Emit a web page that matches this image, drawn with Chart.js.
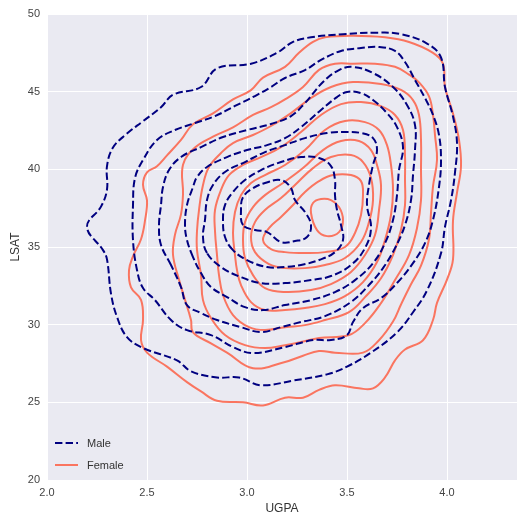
<!DOCTYPE html>
<html>
<head>
<meta charset="utf-8">
<script src="https://cdn.jsdelivr.net/npm/chart.js@4.4.1/dist/chart.umd.min.js"></script>
<style>
  html, body { margin: 0; padding: 0; background: #fff; }
  #wrap { width: 520px; height: 518px; }
</style>
</head>
<body>
<div id="wrap"><canvas id="kde" width="520" height="518"></canvas></div>
<script>
// axis ticks and series names
const xTicks = [2.0, 2.5, 3.0, 3.5, 4.0];
const yTicks = [20, 25, 30, 35, 40, 45, 50];
const seriesNames = ["Male", "Female"];

// male density contours (UGPA, LSAT), outermost first
const male1 = [[2.20,36.3],[2.27,37.6],[2.30,38.7],[2.30,40.2],[2.33,41.4],[2.40,42.3],[2.48,43.1],[2.57,44.0],[2.63,44.8],[2.77,45.3],[2.85,46.5],[3.02,46.8],[3.15,47.5],[3.23,48.2],[3.32,48.5],[3.48,48.7],[3.65,48.8],[3.77,48.7],[3.90,48.1],[3.97,47.2],[3.99,45.3],[4.03,43.4],[4.05,41.7],[4.04,39.8],[4.02,38.0],[3.99,36.3],[3.97,34.6],[3.90,32.2],[3.83,30.8],[3.75,29.5],[3.62,28.2],[3.50,27.3],[3.40,26.8],[3.23,26.4],[3.07,26.1],[2.96,26.6],[2.85,26.6],[2.72,27.0],[2.65,27.7],[2.48,28.5],[2.40,29.2],[2.35,30.5],[2.32,32.0],[2.30,34.2],[2.28,34.8]];
const male2 = [[2.43,35.44],[2.43,37.70],[2.44,39.44],[2.48,40.60],[2.55,41.89],[2.64,42.53],[2.74,42.98],[2.84,43.43],[2.94,44.08],[3.04,44.72],[3.12,45.30],[3.19,45.88],[3.29,46.39],[3.37,47.04],[3.47,47.62],[3.57,47.81],[3.66,47.88],[3.74,47.62],[3.79,46.91],[3.84,45.75],[3.89,44.59],[3.93,43.50],[3.96,42.21],[3.97,40.60],[3.96,38.86],[3.93,36.74],[3.89,35.25],[3.83,33.96],[3.75,32.68],[3.67,31.71],[3.58,31.07],[3.53,30.17],[3.50,29.33],[3.42,29.01],[3.33,29.01],[3.19,28.56],[3.03,28.17],[2.93,28.56],[2.82,29.33],[2.70,29.65],[2.62,30.30],[2.54,31.58],[2.48,32.36],[2.45,33.52]];
const male3 = [[2.62,33.84],[2.57,35.13],[2.56,36.41],[2.57,37.70],[2.58,38.86],[2.61,39.95],[2.67,40.79],[2.77,41.43],[2.88,42.08],[3.00,42.53],[3.12,42.92],[3.22,43.43],[3.29,44.27],[3.38,45.62],[3.46,46.39],[3.53,46.59],[3.63,46.20],[3.73,45.30],[3.80,44.14],[3.84,42.85],[3.84,41.24],[3.83,39.63],[3.82,38.02],[3.79,36.41],[3.74,34.93],[3.68,33.64],[3.61,32.55],[3.52,31.46],[3.39,30.55],[3.27,30.17],[3.17,29.84],[3.07,29.52],[2.97,29.84],[2.85,30.30],[2.77,30.75],[2.70,31.26],[2.67,32.42]];
const male4 = [[2.73,34.35],[2.70,35.45],[2.69,36.41],[2.70,37.70],[2.73,38.86],[2.75,39.50],[2.80,40.15],[2.90,40.79],[3.00,41.24],[3.10,41.56],[3.19,42.01],[3.27,42.72],[3.37,43.82],[3.45,44.65],[3.50,44.98],[3.57,44.91],[3.63,44.46],[3.70,43.62],[3.75,42.72],[3.78,41.43],[3.76,39.95],[3.75,38.34],[3.73,36.74],[3.69,35.25],[3.63,33.96],[3.54,32.87],[3.44,32.10],[3.32,31.58],[3.19,31.26],[3.08,30.94],[2.99,31.13],[2.90,31.78],[2.82,32.42],[2.77,33.32]];
const male5 = [[2.80,34.61],[2.78,35.64],[2.79,36.74],[2.80,38.02],[2.83,38.99],[2.89,39.83],[2.99,40.47],[3.09,41.11],[3.19,41.56],[3.29,42.01],[3.40,42.34],[3.48,42.40],[3.57,42.34],[3.63,42.01],[3.65,41.24],[3.63,40.28],[3.61,38.99],[3.60,37.70],[3.62,36.22],[3.59,34.93],[3.52,33.84],[3.42,33.13],[3.32,32.87],[3.19,32.68],[3.07,32.68],[2.97,33.06],[2.87,33.71]];
const male6 = [[2.93,34.80],[2.89,35.64],[2.88,36.74],[2.89,37.70],[2.93,38.54],[2.99,39.31],[3.07,39.95],[3.17,40.47],[3.27,40.79],[3.36,40.73],[3.42,40.21],[3.44,39.31],[3.44,38.34],[3.45,37.38],[3.47,36.41],[3.48,35.45],[3.44,34.67],[3.36,34.16],[3.27,33.84],[3.19,33.71],[3.10,33.71],[3.00,34.16]];
const male7 = [[2.98,36.41],[2.97,37.38],[2.98,38.21],[3.03,38.79],[3.09,39.12],[3.17,39.31],[3.22,38.79],[3.24,38.02],[3.29,37.25],[3.32,36.41],[3.30,35.64],[3.24,35.38],[3.17,35.32],[3.10,35.96],[3.04,36.09]];

// female density contours (UGPA, LSAT), outermost first
const female1 = [[2.41,33.5],[2.43,34.4],[2.47,35.5],[2.49,36.7],[2.50,38.0],[2.48,39.0],[2.50,39.8],[2.55,40.2],[2.60,40.9],[2.67,41.9],[2.73,42.9],[2.83,43.6],[2.93,44.5],[3.02,45.1],[3.08,45.9],[3.19,46.6],[3.26,47.5],[3.33,48.2],[3.39,48.5],[3.53,48.6],[3.69,48.5],[3.81,48.2],[3.93,47.5],[3.98,46.8],[3.99,45.3],[4.03,43.6],[4.06,41.9],[4.07,40.2],[4.05,38.5],[4.03,36.7],[4.03,34.2],[4.00,32.9],[3.95,31.4],[3.93,30.3],[3.88,29.0],[3.79,28.4],[3.74,27.7],[3.69,26.6],[3.63,25.9],[3.56,25.9],[3.44,26.1],[3.36,25.8],[3.28,25.3],[3.19,25.3],[3.08,24.8],[2.98,25.0],[2.85,25.1],[2.77,25.7],[2.70,26.3],[2.60,27.3],[2.50,28.2],[2.47,29.0],[2.48,30.3],[2.47,31.6],[2.42,32.4]];
const female2 = [[2.72,30.3],[2.69,31.6],[2.66,32.9],[2.63,34.5],[2.64,35.8],[2.67,37.1],[2.68,38.4],[2.68,40.3],[2.74,41.4],[2.83,42.1],[2.93,42.7],[3.03,43.5],[3.12,44.0],[3.19,44.5],[3.28,45.3],[3.36,46.4],[3.44,46.8],[3.53,46.8],[3.64,46.8],[3.74,46.6],[3.81,46.1],[3.86,45.6],[3.91,44.7],[3.93,43.5],[3.94,42.2],[3.95,40.6],[3.93,38.9],[3.92,37.2],[3.91,35.5],[3.87,33.8],[3.82,32.6],[3.77,31.3],[3.73,30.2],[3.66,29.0],[3.58,28.2],[3.44,28.2],[3.36,28.3],[3.28,28.0],[3.19,27.6],[3.03,27.2],[2.90,28.2],[2.82,28.8],[2.73,29.5]];
const female3 = [[2.75,34.80],[2.75,36.03],[2.76,37.38],[2.78,38.99],[2.81,40.15],[2.87,41.05],[2.93,41.69],[3.03,42.21],[3.12,42.79],[3.22,43.62],[3.32,44.59],[3.42,45.30],[3.53,45.62],[3.67,45.49],[3.77,45.11],[3.83,44.46],[3.86,43.50],[3.87,41.89],[3.87,39.95],[3.87,38.02],[3.85,36.22],[3.81,34.48],[3.74,32.87],[3.67,31.39],[3.59,30.10],[3.51,29.33],[3.36,29.14],[3.27,28.88],[3.19,28.68],[3.09,28.49],[2.99,28.68],[2.89,29.33],[2.82,30.42],[2.78,31.58],[2.77,33.19]];
const female4 = [[2.85,34.48],[2.84,36.03],[2.84,37.38],[2.87,38.67],[2.91,39.63],[2.98,40.28],[3.07,40.79],[3.17,41.43],[3.27,42.40],[3.37,43.50],[3.47,44.20],[3.57,44.33],[3.67,44.07],[3.74,43.50],[3.78,42.53],[3.79,40.92],[3.79,39.31],[3.79,37.70],[3.77,36.09],[3.73,34.48],[3.67,32.99],[3.59,31.77],[3.51,30.81],[3.39,30.30],[3.29,29.97],[3.19,29.84],[3.09,29.65],[3.01,29.84],[2.93,30.62],[2.88,31.90],[2.86,33.19]];
const female5 = [[2.94,34.48],[2.93,35.90],[2.94,37.25],[2.97,38.34],[3.02,39.12],[3.09,39.63],[3.19,40.28],[3.29,41.24],[3.39,42.53],[3.49,43.11],[3.59,43.04],[3.66,42.53],[3.70,41.56],[3.72,40.28],[3.73,38.67],[3.72,37.06],[3.69,35.45],[3.65,34.03],[3.58,32.74],[3.49,31.84],[3.39,31.32],[3.29,31.07],[3.19,30.94],[3.09,30.94],[3.02,31.45],[2.97,32.55],[2.95,33.51]];
const female6 = [[2.99,34.29],[2.98,35.45],[2.99,36.60],[3.03,37.57],[3.09,38.34],[3.18,39.12],[3.28,40.08],[3.38,41.24],[3.47,41.82],[3.56,41.82],[3.62,41.24],[3.65,40.28],[3.67,38.99],[3.66,37.38],[3.64,35.77],[3.59,34.48],[3.52,33.39],[3.42,32.61],[3.32,32.23],[3.19,32.10],[3.09,32.35],[3.03,33.19]];
const female7 = [[3.04,34.67],[3.02,35.64],[3.04,36.60],[3.09,37.38],[3.17,38.15],[3.24,38.99],[3.33,40.08],[3.42,40.79],[3.52,40.92],[3.58,40.47],[3.62,39.44],[3.63,38.02],[3.61,36.60],[3.57,35.32],[3.49,34.29],[3.39,33.84],[3.29,33.64],[3.19,33.64],[3.11,33.90]];
const female8 = [[3.08,35.45],[3.11,36.22],[3.17,36.93],[3.23,37.70],[3.29,38.54],[3.36,39.24],[3.43,39.63],[3.52,39.63],[3.57,39.24],[3.58,38.34],[3.57,37.06],[3.54,35.90],[3.49,35.00],[3.39,34.67],[3.29,34.61],[3.19,34.67],[3.12,34.87]];
const female9 = [[3.32,37.19],[3.33,37.83],[3.37,38.09],[3.42,38.02],[3.46,37.57],[3.48,36.74],[3.46,35.96],[3.40,35.70],[3.35,36.09]];

const maleLevels = [male1, male2, male3, male4, male5, male6, male7];
const femaleLevels = [female1, female2, female3, female4, female5, female6, female7, female8, female9];

const maleColor = "#000080";
const femaleColor = "#FA7560";
const maleDash = [7.4, 3.2];

Chart.defaults.font.family = '"Liberation Sans", Arial, sans-serif';

const datasets = [];
maleLevels.forEach((pts, i) => {
  datasets.push({
    label: i === 0 ? seriesNames[0] : "",
    data: pts,
    showLine: true,
    borderColor: maleColor,
    borderWidth: 2,
    borderDash: maleDash,
    pointRadius: 0,
    tension: 0.4
  });
});
femaleLevels.forEach((pts, i) => {
  datasets.push({
    label: i === 0 ? seriesNames[1] : "",
    data: pts,
    showLine: true,
    borderColor: femaleColor,
    borderWidth: 2,
    pointRadius: 0,
    tension: 0.4
  });
});

// contours are closed curves: make the line element wrap round like a radar line
const closeLoops = {
  id: "closeLoops",
  afterDatasetUpdate(chart, args) {
    const line = args.meta.dataset;
    if (line) {
      line._loop = true;
      line._fullLoop = true;
      line._segments = undefined;
      line._path = undefined;
      line._pointsUpdated = false;
    }
  }
};

const bgPlugin = {
  id: "bg",
  beforeDraw(chart) {
    const { ctx, chartArea: a } = chart;
    ctx.save();
    ctx.fillStyle = "#fff";
    ctx.fillRect(0, 0, chart.width, chart.height);
    ctx.fillStyle = "#EAEAF2";
    ctx.fillRect(a.left, a.top, a.right - a.left, a.bottom - a.top);
    ctx.restore();
  }
};

// legend drawn inside the plot, lower left
const innerLegend = {
  id: "innerLegend",
  afterDraw(chart) {
    const { ctx, chartArea: a } = chart;
    const rows = [
      { label: seriesNames[0], color: maleColor, dash: maleDash },
      { label: seriesNames[1], color: femaleColor, dash: [] }
    ];
    rows.forEach((r, i) => {
      const y = a.bottom - 37 + i * 22;
      ctx.save();
      ctx.strokeStyle = r.color;
      ctx.lineWidth = 2;
      ctx.setLineDash(r.dash);
      ctx.beginPath();
      ctx.moveTo(a.left + 8, y);
      ctx.lineTo(a.left + 31, y);
      ctx.stroke();
      ctx.setLineDash([]);
      ctx.fillStyle = "#333";
      ctx.font = '11px "Liberation Sans", Arial, sans-serif';
      ctx.textBaseline = "middle";
      ctx.fillText(r.label, a.left + 40, y + 1);
      ctx.restore();
    });
  }
};

new Chart(document.getElementById("kde"), {
  type: "scatter",
  data: { datasets },
  options: {
    responsive: false,
    animation: false,
    layout: { padding: { top: 14, right: 3, left: 0, bottom: 0 } },
    plugins: { legend: { display: false }, tooltip: { enabled: false } },
    scales: {
      x: {
        min: 2.0,
        max: 4.35,
        border: { display: false },
        grid: { color: "#fff", lineWidth: 1, drawTicks: false },
        ticks: { padding: 6, color: "#444", font: { size: 11 }, callback: v => Number(v).toFixed(1) },
        title: { display: true, text: "UGPA", color: "#333", font: { size: 12 }, padding: { top: 2, bottom: 2 } },
        afterBuildTicks: s => { s.ticks = xTicks.map(v => ({ value: v })); },
        afterFit: s => { s.height = 38; }
      },
      y: {
        min: 20,
        max: 50,
        border: { display: false },
        grid: { color: "#fff", lineWidth: 1, drawTicks: false },
        ticks: { padding: 7, color: "#444", font: { size: 11 } },
        title: { display: true, text: "LSAT", color: "#333", font: { size: 12 }, padding: { top: 8, bottom: 0 } },
        afterBuildTicks: s => { s.ticks = yTicks.map(v => ({ value: v })); },
        afterFit: s => { s.width = 47; }
      }
    }
  },
  plugins: [bgPlugin, closeLoops, innerLegend]
});
</script>
</body>
</html>
